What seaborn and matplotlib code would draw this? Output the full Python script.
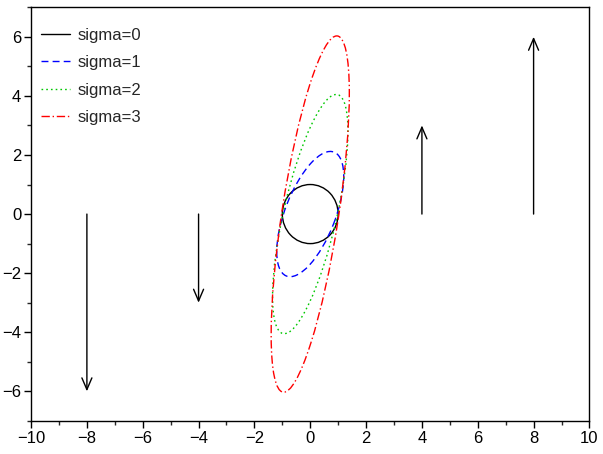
import numpy as np
import seaborn as sns
import matplotlib.pyplot as plt
from matplotlib.patches import Ellipse
from matplotlib.lines import Line2D

# ellipses: top of the curve (y), x at that top, half-width in x
sigmas = [0, 1, 2, 3]
y_top = [1.0, 2.12, 4.05, 6.03]
x_at_top = [0.0, 0.72, 0.93, 0.95]
x_half = [1.0, 1.2, 1.35, 1.4]
colors = ["black", "#0000ff", "#00c800", "#ff0000"]
styles = ["-", (0, (5, 3)), (0, (1.2, 2.2)), (0, (6, 2, 1, 2))]

# vertical arrows (x position, tail y, head y)
arrow_x = [-8, -4, 4, 8]
arrow_y0 = [0, 0, 0, 0]
arrow_y1 = [-6, -3, 3, 6]

sns.set_theme(style="ticks")
plt.rcParams["font.family"] = ["Liberation Sans", "DejaVu Sans"]

fig = plt.figure(figsize=(6.03, 4.54), dpi=100)
ax = fig.add_axes([0.0515, 0.073, 0.926, 0.911])

handles = []
for s, yt, xt, xh, c, ls in zip(sigmas, y_top, x_at_top, x_half, colors, styles):
    cov = np.array([[xh ** 2, xt * yt], [xt * yt, yt ** 2]])
    vals, vecs = np.linalg.eigh(cov)
    ang = np.degrees(np.arctan2(vecs[1, 1], vecs[0, 1]))
    e = Ellipse((0, 0), 2 * np.sqrt(vals[1]), 2 * np.sqrt(vals[0]), angle=ang,
                fill=False, edgecolor=c, linestyle=ls, linewidth=1.0)
    ax.add_patch(e)
    handles.append(Line2D([], [], color=c, linestyle=ls, linewidth=1.0,
                          label=f"sigma={s}"))

for x, y0, y1 in zip(arrow_x, arrow_y0, arrow_y1):
    ax.annotate("", xy=(x, y1), xytext=(x, y0),
                arrowprops=dict(arrowstyle="->,head_length=0.7,head_width=0.3",
                                color="black", lw=1.0, shrinkA=0, shrinkB=0))

ax.set_xlim(-10, 10)
ax.set_ylim(-7, 7)
ax.set_xticks(np.arange(-10, 11, 2))
ax.set_xticks(np.arange(-10, 11, 1), minor=True)
ax.set_yticks(np.arange(-6, 7, 2))
ax.set_yticks(np.arange(-7, 8, 1), minor=True)
ax.tick_params(which="major", direction="out", length=5, width=1, labelsize=12,
               colors="black", pad=2)
ax.tick_params(which="minor", direction="out", length=3, width=1)
for sp in ax.spines.values():
    sp.set_color("black")
    sp.set_linewidth(1.0)

ax.legend(handles=handles, loc="upper left", frameon=False, fontsize=12,
          handlelength=1.75, handletextpad=0.5, labelspacing=0.75,
          borderaxespad=0.0, bbox_to_anchor=(0.005, 0.967))

fig.savefig("out.png", dpi=100)
